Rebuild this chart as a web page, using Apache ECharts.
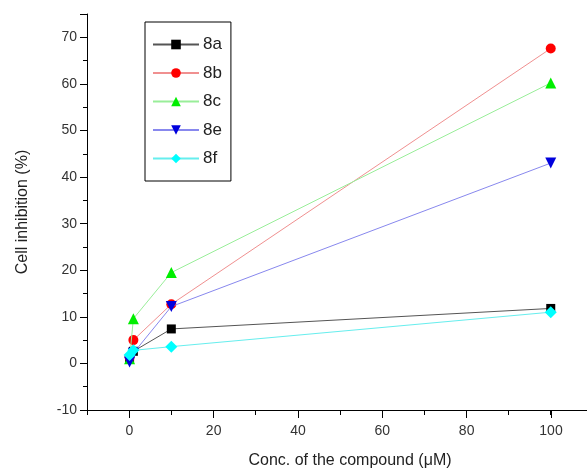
<!DOCTYPE html>
<html>
<head>
<meta charset="utf-8">
<script src="https://cdn.jsdelivr.net/npm/echarts@6/dist/echarts.min.js"></script>
<style>
  html, body { margin: 0; padding: 0; background: #fff; }
  #main { width: 587px; height: 472px; }
</style>
</head>
<body>
<div id="main"></div>
<script>
// concentrations (uM)
var conc = [0.1, 1, 10, 100]

// cell inhibition (%) for each compound
var s8a = [1.0, 2.6, 7.4, 11.8]
var s8b = [1.3, 5.0, 12.7, 67.6]
var s8c = [1.0, 9.6, 19.5, 60.2]
var s8e = [0.3, 2.2, 12.2, 43.0]
var s8f = [1.8, 2.8, 3.6, 11.0]

var names = ['8a', '8b', '8c', '8e', '8f']
var xTickLabels = [0, 20, 40, 60, 80, 100]

function pairs(vals) {
    return conc.map(function (c, i) { return [c, vals[i]] })
}

var font = 'Arial, "Liberation Sans", sans-serif'

var myChart = echarts.init(document.getElementById('main'))

// marker and line colours per compound
var looks = [
    { symbol: 'rect', size: 9, mark: '#000000', line: '#555555' },
    { symbol: 'circle', size: 10, mark: '#ff0000', line: '#f09090' },
    { symbol: 'triangle', size: 11, mark: '#00ee00', line: '#99ee99' },
    { symbol: 'path://M0,0 L10,0 L5,9 Z', size: 11, mark: '#0000dd', line: '#8888ee' },
    { symbol: 'diamond', size: 12, mark: '#00ffff', line: '#66eeee' }
]
var allData = [s8a, s8b, s8c, s8e, s8f]

var series = names.map(function (n, i) {
    var lk = looks[i]
    return {
        name: n,
        type: 'line',
        data: pairs(allData[i]),
        symbol: lk.symbol,
        symbolSize: lk.size,
        showAllSymbol: true,
        itemStyle: { color: lk.mark },
        lineStyle: { color: lk.line, width: 1 },
        emphasis: { disabled: true },
        z: 2 + i
    }
})

option = {
    animation: false,
    backgroundColor: '#ffffff',
    grid: [
        // the axis runs off the right edge of the picture
        { left: 87, right: 0, top: 14, bottom: 62, outerBoundsMode: 'none' },
        // a second grid only for the 0..100 labels and long ticks
        { left: 129.3, width: 421.7, top: 14, bottom: 62, outerBoundsMode: 'none' }
    ],
    legend: {
        orient: 'vertical',
        left: 145,
        top: 22,
        itemWidth: 46,
        itemHeight: 12,
        itemGap: 11.5,
        padding: [14, 9, 14, 7],
        borderColor: '#000',
        borderWidth: 1,
        textStyle: { fontSize: 17, color: '#222', fontFamily: font, padding: [0, 0, 0, -1] },
        data: names
    },
    xAxis: [
        {
            type: 'value',
            gridIndex: 0,
            min: -10,
            max: 108.6,
            interval: 10,
            axisLine: { onZero: false, lineStyle: { color: '#000', width: 1 } },
            axisTick: { length: 5, lineStyle: { color: '#000' } },
            axisLabel: { show: false },
            splitLine: { show: false },
            name: 'Conc. of the compound (\u03bcM)',
            nameLocation: 'middle',
            nameGap: 43,
            nameTextStyle: { fontSize: 16, color: '#222', fontFamily: font, padding: [0, 0, 0, 26] }
        },
        {
            type: 'value',
            gridIndex: 1,
            min: 0,
            max: 100,
            interval: 20,
            axisLine: { show: false, onZero: false },
            axisTick: { length: 8, lineStyle: { color: '#000' } },
            axisLabel: {
                fontSize: 14, color: '#333', fontFamily: font, margin: 14,
                formatter: function (v) { return xTickLabels.indexOf(v) >= 0 ? String(v) : '' }
            },
            splitLine: { show: false }
        }
    ],
    yAxis: [
        {
            type: 'value',
            gridIndex: 0,
            min: -10,
            max: 75,
            interval: 10,
            axisLine: { show: true, onZero: false, lineStyle: { color: '#000', width: 1 } },
            axisTick: { show: true, length: 7, lineStyle: { color: '#000' } },
            minorTick: { show: true, splitNumber: 2, length: 4, lineStyle: { color: '#000' } },
            axisLabel: { fontSize: 14, color: '#333', fontFamily: font, margin: 10, showMaxLabel: false },
            splitLine: { show: false },
            name: 'Cell inhibition (%)',
            nameLocation: 'middle',
            nameGap: 56,
            nameTextStyle: { fontSize: 16, color: '#222', fontFamily: font }
        },
        {
            type: 'value',
            gridIndex: 1,
            min: -10,
            max: 75,
            interval: 10,
            show: false
        }
    ],
    series: series
}

myChart.setOption(option)
</script>
</body>
</html>
